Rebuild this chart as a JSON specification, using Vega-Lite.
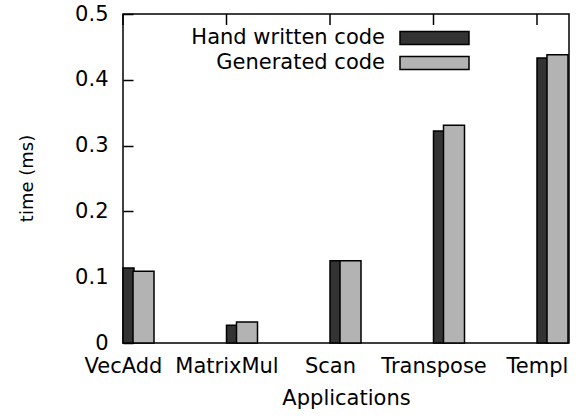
{
  "$schema": "https://vega.github.io/schema/vega-lite/v6.json",
  "width": 446,
  "height": 329,
  "autosize": {"type": "none"},
  "padding": {"left": 123, "top": 14, "right": 14, "bottom": 76},
  "background": "white",
  "config": {
    "view": {"stroke": "black", "strokeWidth": 1.5},
    "font": "DejaVu Sans",
    "axis": {"domain": false, "labelFont": "DejaVu Sans", "titleFont": "DejaVu Sans", "labelColor": "black", "titleColor": "black", "tickColor": "black", "titleFontWeight": "normal"}
  },
  "data": {
    "values": [
      {"app": "VecAdd", "series": "Hand written code", "time": 0.114},
      {"app": "VecAdd", "series": "Generated code", "time": 0.109},
      {"app": "MatrixMul", "series": "Hand written code", "time": 0.027},
      {"app": "MatrixMul", "series": "Generated code", "time": 0.032},
      {"app": "Scan", "series": "Hand written code", "time": 0.125},
      {"app": "Scan", "series": "Generated code", "time": 0.125},
      {"app": "Transpose", "series": "Hand written code", "time": 0.322},
      {"app": "Transpose", "series": "Generated code", "time": 0.331},
      {"app": "Templ", "series": "Hand written code", "time": 0.433},
      {"app": "Templ", "series": "Generated code", "time": 0.438}
    ]
  },
  "layer": [
    {
      "transform": [{"filter": "datum.series == 'Hand written code'"}],
      "mark": {"type": "bar", "size": 11, "xOffset": 5.5, "stroke": "black", "strokeWidth": 1.5},
      "encoding": {
        "x": {"field": "app", "type": "ordinal", "sort": null,
              "scale": {"type": "point", "padding": 0, "range": [0, 414]},
              "axis": {"orient": "bottom", "title": "Applications", "ticks": false, "grid": false, "labelAngle": 0, "labelFontSize": 21, "labelPadding": 12,
                       "titleFontSize": 21, "titleX": 223, "titleY": 55, "titleBaseline": "middle"}},
        "y": {"field": "time", "type": "quantitative",
              "scale": {"domain": [0, 0.5]},
              "axis": {"title": "time (ms)", "values": [0, 0.1, 0.2, 0.3, 0.4, 0.5], "format": "~g", "grid": false,
                       "ticks": true, "tickSize": -10, "tickWidth": 1.5, "labelFontSize": 21, "labelPadding": 25,
                       "titleFontSize": 18, "titleX": -96, "titleY": 164, "titleBaseline": "middle"}},
        "color": {"field": "series", "type": "nominal",
                  "scale": {"domain": ["Hand written code", "Generated code"], "range": ["#333333", "#b3b3b3"]},
                  "legend": {"title": null, "orient": "none", "legendX": -7, "legendY": 11.5, "padding": 0,
                             "symbolType": "M-3,-0.57H3V0.57H-3Z", "symbolSize": 529, "symbolStrokeColor": "black", "symbolStrokeWidth": 1.5, "symbolOpacity": 1,
                             "labelFont": "DejaVu Sans", "labelFontSize": 21, "labelColor": "black", "labelAlign": "right", "labelOffset": -62, "symbolOffset": 306, "rowPadding": 2, "labelLimit": 400}}
      }
    },
    {
      "transform": [{"filter": "datum.series == 'Generated code'"}],
      "mark": {"type": "bar", "size": 21, "xOffset": 20.5, "stroke": "black", "strokeWidth": 1.5},
      "encoding": {
        "x": {"field": "app", "type": "ordinal", "sort": null},
        "y": {"field": "time", "type": "quantitative"},
        "color": {"field": "series", "type": "nominal"}
      }
    },
    {
      "transform": [{"filter": "datum.series == 'Generated code'"}],
      "mark": {"type": "tick", "orient": "vertical", "size": 11, "thickness": 1.5, "yOffset": 5.5, "color": "black", "opacity": 1},
      "encoding": {
        "x": {"field": "app", "type": "ordinal", "sort": null},
        "y": {"datum": 0.5}
      }
    }
  ]
}
